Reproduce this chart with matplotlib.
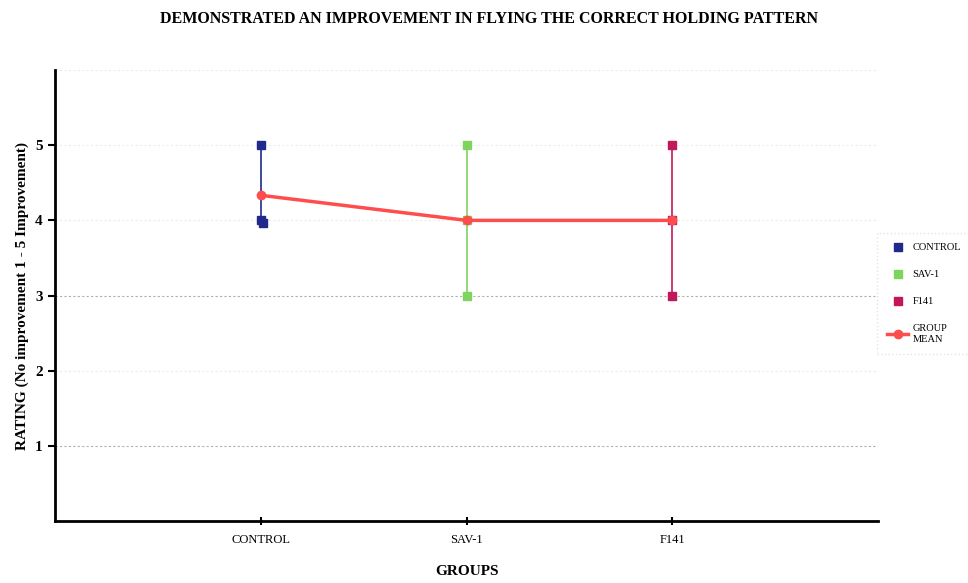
import matplotlib.pyplot as plt
import numpy as np

plt.rcParams['font.family'] = ['Liberation Serif', 'DejaVu Serif']

groups = ['CONTROL', 'SAV-1', 'F141']
ratings = {
    'CONTROL': [5, 4, 4],
    'SAV-1': [5, 3, 4],
    'F141': [5, 3, 4],
}
colors = {'CONTROL': '#1f2a8c', 'SAV-1': '#7fd35f', 'F141': '#c2185b'}
group_mean = [np.mean(ratings[g]) for g in groups]

fig = plt.figure(figsize=(9.68, 5.83), dpi=100)
ax = fig.add_axes([0.057, 0.106, 0.85, 0.774])

xpos = np.arange(1, len(groups) + 1)

# gridlines: dotted, darker at 1 and 3
for y in [1, 3]:
    ax.axhline(y, color='#b0b0b0', lw=0.8, ls=(0, (2, 2)), zorder=0)
for y in [2, 4, 5, 6]:
    ax.axhline(y, color='#ececec', lw=0.8, ls=(0, (2, 2)), zorder=0)

for x, g in zip(xpos, groups):
    vals = ratings[g]
    ax.plot([x, x], [min(vals), max(vals)], color=colors[g], lw=1.2, zorder=2)
    # repeated ratings are nudged so both squares show
    seen = {}
    for v in vals:
        k = seen.get(v, 0)
        seen[v] = k + 1
        ax.plot(x + 0.01 * k, v - 0.04 * k, 's', color=colors[g], ms=6,
                mec=colors[g], zorder=3, label=g if k == 0 and v == vals[0] else None)

ax.plot(xpos, group_mean, '-o', color='#ff4d4d', lw=2.5, ms=6, zorder=4,
        label='GROUP\nMEAN')

ax.set_xlim(0, 4)
ax.set_ylim(0, 6)
ax.set_xticks(xpos)
ax.set_xticklabels(groups, fontsize=9)
ax.set_yticks([1, 2, 3, 4, 5])
ax.set_yticklabels(['1', '2', '3', '4', '5'], fontsize=11, fontweight='bold')
ax.tick_params(axis='x', direction='inout', length=6, width=1.5, pad=6)
ax.tick_params(axis='y', direction='out', length=5, width=1.5, pad=4)

for s in ['top', 'right']:
    ax.spines[s].set_visible(False)
ax.spines['left'].set_linewidth(2)
ax.spines['bottom'].set_linewidth(2)

ax.set_xlabel('GROUPS', fontsize=11, fontweight='bold', labelpad=14)
ax.set_ylabel('RATING (No improvement 1 - 5 Improvement)', fontsize=11,
              fontweight='bold', labelpad=4)
fig.text(0.505, 0.968, 'DEMONSTRATED AN IMPROVEMENT IN FLYING THE CORRECT HOLDING PATTERN',
         ha='center', va='center', fontsize=11.5, fontweight='bold')

handles, labels = ax.get_legend_handles_labels()
leg = ax.legend(handles, labels, loc='center left', bbox_to_anchor=(1.0, 0.505),
                fontsize=7.5, frameon=True, labelspacing=1.7, handlelength=2.0,
                handletextpad=0.4, borderpad=0.7, borderaxespad=0.2)
leg.get_frame().set_edgecolor('#dddddd')
leg.get_frame().set_linestyle(':')
leg.get_frame().set_boxstyle('square')

fig.savefig('out.png', dpi=100)
